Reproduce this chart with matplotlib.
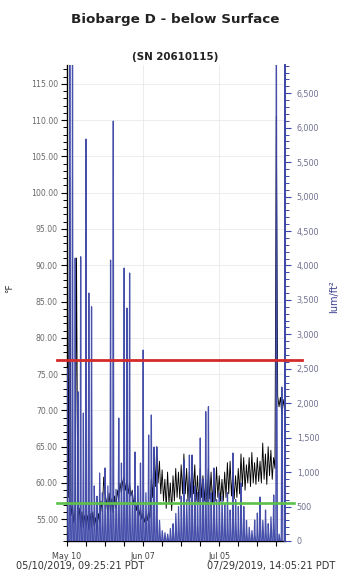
import numpy as np
import matplotlib
matplotlib.use("Agg")
import matplotlib.pyplot as plt
from matplotlib.ticker import MultipleLocator, FuncFormatter, FixedLocator

# ---------------- data ----------------
title = "Biobarge D - below Surface"
subtitle = "(SN 20610115)"
start_label = "05/10/2019, 09:25:21 PDT"
end_label = "07/29/2019, 14:05:21 PDT"
x_tick_labels = ["May 10", "Jun 07", "Jul 05"]
x_tick_days = [0, 28, 56]            # days after start
week_ticks = [0, 7, 14, 21, 28, 35, 42, 49, 56, 63, 70, 77]
span_days = 80.194                    # 05/10 09:25:21 -> 07/29 14:05:21
start_hour_frac = 0.391               # 09:25 as fraction of a day
temp_step_days = 0.5                  # temperature sample every 12 h

# temperature (°F), one value every 12 hours from the start
temp_f = [
    100.8, 58.0, 102.2, 55.5, 56.8, 54.5, 56.2, 91.0, 55.0, 56.5, 54.0, 56.0, 53.8, 55.5,
    54.2, 55.5, 53.6, 55.8, 53.8, 56.0, 54.0, 55.2, 53.5, 55.8, 54.5, 57.5, 56.0, 60.8,
    58.5, 57.5, 55.8, 58.6, 56.0, 57.8, 55.9, 58.2, 56.5, 59.0, 57.8, 60.0, 58.6, 60.2,
    60.8, 59.0, 60.3, 58.5, 60.0, 58.2, 59.0, 57.0, 58.2, 56.2, 57.2, 55.5, 56.5, 55.0,
    55.8, 54.6, 55.5, 54.8, 56.0, 55.2, 60.5, 58.0, 64.5, 59.5, 65.0, 60.0, 63.0, 58.5,
    61.8, 57.5, 60.5, 56.5, 61.5, 57.2, 60.0, 56.2, 61.0, 57.5, 62.0, 58.0, 61.5, 57.8,
    62.5, 58.5, 64.0, 58.5, 62.0, 57.5, 61.5, 58.0, 63.8, 58.5, 62.5, 57.5, 61.0, 57.2,
    62.0, 58.0, 61.0, 57.5, 60.5, 57.0, 62.0, 57.8, 61.5, 57.2, 60.8, 57.5, 62.2, 58.0,
    61.0, 57.5, 60.5, 57.5, 61.5, 58.0, 62.8, 58.5, 63.0, 58.2, 61.5, 57.8, 61.0, 58.0,
    62.0, 58.5, 64.0, 59.5, 63.5, 59.0, 62.5, 60.0, 63.5, 59.5, 64.2, 60.0, 62.8, 59.8,
    63.5, 60.2, 63.0, 60.0, 65.5, 60.5, 64.0, 59.8, 65.0, 61.0, 64.5, 60.5, 63.5, 62.0,
    110.5, 72.0, 70.5, 71.8, 69.6, 71.5, 70.2,
]

# light (lum/ft²): daily peak and a smaller shoulder reading, one per calendar day from May 10
lux_peak = [
    2500, 7500, 7500, 4107, 2167, 4126, 1858, 5834, 3599, 3400,
    800, 650, 987, 700, 1060, 800, 4078, 6096, 750, 1785,
    1132, 3962, 3382, 3890, 700, 1292, 800, 1132, 2772, 700,
    1538, 1829, 1364, 1364, 300, 150, 120, 100, 180, 250,
    400, 500, 650, 1176, 600, 1248, 1248, 800, 700, 1495,
    900, 1877, 1949, 700, 1060, 600, 697, 650, 550, 700,
    450, 1277, 600, 500, 842, 500, 300, 200, 150, 305,
    406, 639, 300, 450, 250, 350, 668, 7500, 100, 2235,
]
lux_second = [
    600, 650, 550, 500, 600, 450, 550, 500, 600, 450,
    500, 400, 550, 450, 500, 400, 550, 500, 450, 550,
    500, 600, 450, 500, 550, 600, 500, 450, 550, 400,
    500, 450, 400, 350, 150, 80, 60, 50, 90, 120,
    200, 250, 300, 450, 300, 400, 350, 300, 250, 450,
    400, 500, 550, 300, 400, 250, 300, 350, 250, 300,
    200, 350, 250, 200, 300, 200, 120, 100, 80, 90,
    150, 250, 150, 200, 120, 180, 250, 3000, 50, 1655,
]

red_limit_f = 77.0
green_limit_f = 57.2
temp_ylim = (52.0, 117.6)
lux_ylim = (0, 6910)

# ---------------- series construction ----------------
t_temp = np.arange(len(temp_f)) * temp_step_days
t_lux, v_lux = [], []
for d, (pk, sh) in enumerate(zip(lux_peak, lux_second)):
    base = d - start_hour_frac
    t_lux += [base + 0.22, base + 0.42, base + 0.58, base + 0.78]
    v_lux += [0, pk, sh, 0]
t_lux = np.array(t_lux)
v_lux = np.array(v_lux)

# ---------------- figure ----------------
W, H = 339, 575
fig = plt.figure(figsize=(W / 100, H / 100), dpi=100)
L, R, T, B = 67, 285, 65, 541
rect = [L / W, (H - B) / H, (R - L) / W, (B - T) / H]
ax = fig.add_axes(rect)
ax2 = ax.twinx()

blue = "#3c46a6"
ax.plot(t_temp, temp_f, color="black", lw=0.65, zorder=3)
ax2.plot(t_lux, v_lux, color=blue, lw=0.9, alpha=0.95, zorder=2)

ax.set_xlim(0, span_days)
ax.set_ylim(*temp_ylim)
ax2.set_ylim(*lux_ylim)

# grid
ax.yaxis.set_major_locator(MultipleLocator(5))
ax.yaxis.set_minor_locator(MultipleLocator(1))
ax.grid(axis="y", which="major", color="#e9e9e9", lw=0.6)
for xd in x_tick_days[1:]:
    ax.axvline(xd, color="#e9e9e9", lw=0.6, zorder=0)
ax.set_axisbelow(True)

# left axis styling
ax.yaxis.set_major_formatter(FuncFormatter(lambda v, p: f"{v:.2f}"))
ax.tick_params(axis="y", which="major", length=4.5, width=0.8, color="black",
               labelsize=5.6, labelcolor="#6a6a6a", pad=2)
ax.tick_params(axis="y", which="minor", length=2.6, width=0.7, color="black")
ax.set_ylabel("°F", fontsize=6.5, color="#333333", labelpad=0)
ax.yaxis.set_label_coords((14 - L) / (R - L), (B - 288) / (B - T))

# x axis
ax.xaxis.set_major_locator(FixedLocator(week_ticks))
ax.set_xticklabels([x_tick_labels[x_tick_days.index(w)] if w in x_tick_days else "" for w in week_ticks])
ax.tick_params(axis="x", length=3.5, width=0.8, color="black", labelsize=5.8,
               labelcolor="#444444", pad=4.5)

# right axis
ax2.yaxis.set_major_locator(MultipleLocator(500))
ax2.yaxis.set_minor_locator(MultipleLocator(100))
ax2.yaxis.set_major_formatter(FuncFormatter(lambda v, p: f"{int(v):,}"))
ax2.tick_params(axis="y", which="major", length=4.5, width=0.8, color=blue,
                labelsize=5.8, labelcolor="#6e7090", pad=4)
ax2.tick_params(axis="y", which="minor", length=2.6, width=0.7, color=blue)
ax2.set_ylabel("lum/ft²", fontsize=7.0, color="#3b3f8c", rotation=90)
ax2.yaxis.set_label_coords((329 - L) / (R - L), (B - 297) / (B - T))

for a in (ax, ax2):
    a.spines["top"].set_visible(False)
ax.spines["right"].set_visible(False)
ax2.spines["left"].set_visible(False)
ax2.spines["bottom"].set_visible(False)
ax.spines["left"].set_linewidth(1.0)
ax.spines["bottom"].set_linewidth(1.0)
ax2.spines["right"].set_color(blue)
ax2.spines["right"].set_linewidth(1.4)

# threshold lines on an overlay axes with the temperature scale
ax3 = fig.add_axes(rect, sharex=ax)
ax3.set_ylim(*temp_ylim)
ax3.axis("off")
ax3.axhline(red_limit_f, xmin=(57 - L) / (R - L), xmax=(302 - L) / (R - L),
            color="#d42a2a", lw=2.0, clip_on=False)
ax3.axhline(green_limit_f, xmin=(57 - L) / (R - L), xmax=(294 - L) / (R - L),
            color="#5cc04a", lw=1.9, clip_on=False)

# titles and date range
fig.text(175 / W, 1 - 20 / H, title, ha="center", va="center",
         fontsize=9.7, fontweight="bold", color="#222222")
fig.text(175 / W, 1 - 57 / H, subtitle, ha="center", va="center",
         fontsize=7.4, fontweight="bold", color="#222222")
fig.text(16 / W, 1 - 566 / H, start_label, ha="left", va="center", fontsize=7.0, color="#333333")
fig.text(335 / W, 1 - 566 / H, end_label, ha="right", va="center", fontsize=7.0, color="#333333")

fig.savefig("out.png", dpi=100)
